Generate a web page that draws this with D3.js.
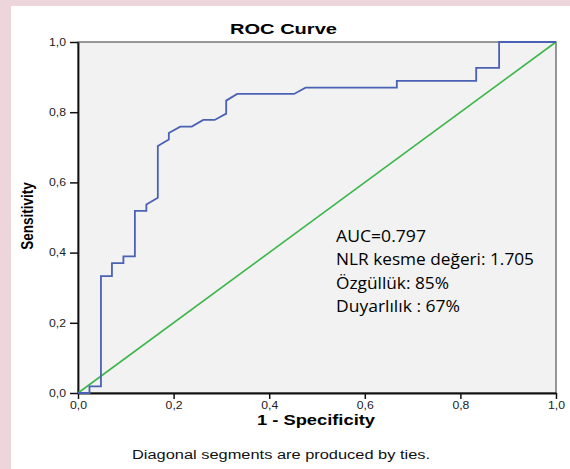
<!DOCTYPE html>
<html>
<head>
<meta charset="utf-8">
<script src="https://cdn.jsdelivr.net/npm/d3@7"></script>
<style>
  body { margin: 0; background: #fff; }
  svg { display: block; }
</style>
</head>
<body>
<script>
var svg_width  = 570;
var svg_height = 469;

// roc curve vertices (1 - specificity, sensitivity)
var fpr = [0, 0.024, 0.024, 0.048, 0.048, 0.071, 0.071, 0.095, 0.095, 0.119, 0.119,
           0.143, 0.143, 0.167, 0.167, 0.190, 0.190, 0.214, 0.238, 0.262, 0.286,
           0.310, 0.310, 0.333, 0.452, 0.476, 0.667, 0.667, 0.833, 0.833, 0.881, 0.881, 1.0];
var tpr = [0, 0, 0.019, 0.019, 0.333, 0.333, 0.370, 0.370, 0.389, 0.389, 0.519,
           0.519, 0.537, 0.556, 0.704, 0.722, 0.741, 0.759, 0.759, 0.778, 0.778,
           0.796, 0.833, 0.852, 0.852, 0.870, 0.870, 0.889, 0.889, 0.926, 0.926, 1.0, 1.0];

// reference line
var diagX = [0, 1];
var diagY = [0, 1];

var tickValues = [0, 0.2, 0.4, 0.6, 0.8, 1.0];
var tickLabels = ["0,0", "0,2", "0,4", "0,6", "0,8", "1,0"];

var noteLines = ["AUC=0.797", "NLR kesme değeri: 1.705", "Özgüllük: 85%", "Duyarlılık : 67%"];

var ARIAL = "'Liberation Sans', Arial, sans-serif";

var svg = d3.select('body').append('svg')
            .attr('width', svg_width)
            .attr('height', svg_height);

// pink page edge
svg.append("rect").attr("x", 0).attr("y", 0).attr("width", svg_width).attr("height", 6).attr("fill", "#ecd6dc");
svg.append("rect").attr("x", 0).attr("y", 0).attr("width", 11).attr("height", svg_height).attr("fill", "#ecd6dc");

var x = d3.scaleLinear().domain([0, 1]).range([78, 556]);
var y = d3.scaleLinear().domain([0, 1]).range([393, 42]);

// plot area
svg.append("rect")
   .attr("x", x(0)).attr("y", y(1))
   .attr("width", x(1) - x(0)).attr("height", y(0) - y(1))
   .attr("fill", "#f2f2f2")
   .attr("stroke", "#555")
   .attr("stroke-width", 1.2);

// axes
var xAxis = svg.append("g")
   .attr("transform", "translate(0," + y(0) + ")")
   .call(d3.axisBottom(x).tickValues(tickValues)
           .tickFormat((d, i) => tickLabels[i]).tickSize(6).tickPadding(3).tickSizeOuter(0));
var yAxis = svg.append("g")
   .attr("transform", "translate(" + x(0) + ",0)")
   .call(d3.axisLeft(y).tickValues(tickValues)
           .tickFormat((d, i) => tickLabels[i]).tickSize(8).tickPadding(4).tickSizeOuter(0));

[xAxis, yAxis].forEach(function(g) {
    g.selectAll(".domain").attr("stroke", "#111").attr("stroke-width", 1.8);
    g.selectAll(".tick line").attr("stroke", "#111").attr("stroke-width", 1.5);
    g.selectAll(".tick text")
     .attr("font-family", ARIAL).attr("font-size", 10).attr("fill", "#222")
     .attr("textLength", 17).attr("lengthAdjust", "spacingAndGlyphs");
});
xAxis.selectAll(".tick text").attr("dy", "0.71em");

// diagonal
var line = d3.line().x(d => x(d[0])).y(d => y(d[1]));
svg.append("path")
   .datum(diagX.map((d, i) => [d, diagY[i]]))
   .attr("d", line)
   .attr("fill", "none")
   .attr("stroke", "#3db64a")
   .attr("stroke-width", 1.6);

// roc curve
svg.append("path")
   .datum(fpr.map((d, i) => [d, tpr[i]]))
   .attr("d", line)
   .attr("fill", "none")
   .attr("stroke", "#4a61b4")
   .attr("stroke-width", 1.8);

// titles
svg.append("text")
   .attr("x", 230).attr("y", 34)
   .attr("font-family", ARIAL).attr("font-size", 15).attr("font-weight", "bold")
   .attr("textLength", 107).attr("lengthAdjust", "spacingAndGlyphs")
   .text("ROC Curve");

svg.append("text")
   .attr("x", 316).attr("y", 425)
   .attr("text-anchor", "middle")
   .attr("font-family", ARIAL).attr("font-size", 14).attr("font-weight", "bold")
   .attr("textLength", 118).attr("lengthAdjust", "spacingAndGlyphs")
   .text("1 - Specificity");

svg.append("text")
   .attr("transform", "translate(33,216) scale(1.25,1) rotate(-90)")
   .attr("text-anchor", "middle")
   .attr("font-family", ARIAL).attr("font-size", 13.5).attr("font-weight", "bold")
   .text("Sensitivity");

svg.append("text")
   .attr("x", 281).attr("y", 459)
   .attr("text-anchor", "middle")
   .attr("font-family", ARIAL).attr("font-size", 12.5).attr("fill", "#111")
   .attr("textLength", 298).attr("lengthAdjust", "spacingAndGlyphs")
   .text("Diagonal segments are produced by ties.");

// annotation
var noteWidths = [90, 198, 113, 124];
svg.append("g").selectAll("text")
   .data(noteLines)
   .enter().append("text")
   .attr("x", 336)
   .attr("y", (d, i) => 242 + i * 23.3)
   .attr("font-family", "'Open Sans', 'Noto Sans', sans-serif")
   .attr("font-size", 17)
   .attr("fill", "#000")
   .attr("textLength", (d, i) => noteWidths[i])
   .attr("lengthAdjust", "spacingAndGlyphs")
   .text(d => d);
</script>
</body>
</html>
